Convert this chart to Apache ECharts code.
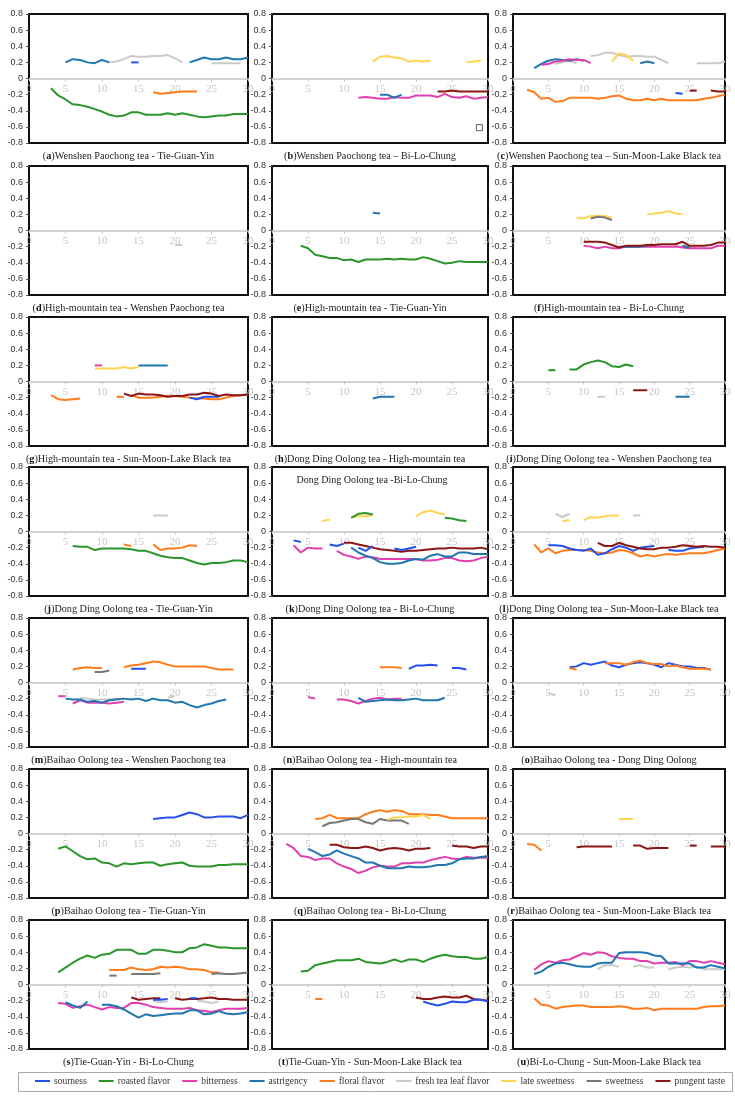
<!DOCTYPE html>
<html>
<head>
<meta charset="utf-8">
<title>tea panels</title>
<script src="https://cdn.jsdelivr.net/npm/echarts@6/dist/echarts.min.js"></script>
<style>
  body { margin: 0; background: #fff; }
  #main { width: 735px; height: 1096px; }
</style>
</head>
<body>
<div id="main"></div>
<script>
// attribute keys, legend names and colours
var names = { so: 'sourness', ro: 'roasted flavor', bi: 'bitterness', as: 'astrigency', fl: 'floral flavor',
  fr: 'fresh tea leaf flavor', la: 'late sweetness', sw: 'sweetness', pu: 'pungent taste' };
var colors = { so: '#2350ee', ro: '#2a962a', bi: '#e23fae', as: '#1f76b0', fl: '#ff7b1c',
  fr: '#cacaca', la: '#ffd450', sw: '#777777', pu: '#8c1616' };
var legendKeys = ['so', 'ro', 'bi', 'as', 'fl', 'fr', 'la', 'sw', 'pu'];

// x ticks / y ticks
var xTicks = [0, 5, 10, 15, 20, 25, 30];
var yTicks = [-0.8, -0.6, -0.4, -0.2, 0, 0.2, 0.4, 0.6, 0.8];

// each segment: [attribute, first x, values at x, x+1, ...]
var dA = [
  ['fr', 11, [0.20, 0.21, 0.24, 0.28, 0.27, 0.27, 0.28, 0.28, 0.29, 0.25, 0.20]],
  ['fr', 25, [0.19, 0.19, 0.19, 0.19, 0.19]],
  ['as', 5, [0.20, 0.24, 0.23, 0.20, 0.19, 0.23, 0.20]],
  ['as', 22, [0.20, 0.23, 0.26, 0.24, 0.24, 0.26, 0.24, 0.24, 0.26]],
  ['so', 14, [0.20, 0.20]],
  ['ro', 3, [-0.12, -0.21, -0.26, -0.32, -0.33, -0.35, -0.38, -0.41, -0.45, -0.47, -0.46, -0.42, -0.42, -0.45, -0.45, -0.45, -0.43, -0.45, -0.43, -0.45, -0.47, -0.48, -0.47, -0.46, -0.46, -0.44, -0.44, -0.44]],
  ['fl', 17, [-0.17, -0.19, -0.18, -0.17, -0.16, -0.16, -0.16]]
];
var dB = [
  ['la', 14, [0.21, 0.27, 0.28, 0.26, 0.25, 0.21, 0.22, 0.21, 0.22]],
  ['la', 27, [0.20, 0.21, 0.22]],
  ['bi', 12, [-0.24, -0.23, -0.24, -0.25, -0.25, -0.23, -0.24, -0.24, -0.21, -0.21, -0.21, -0.23, -0.19, -0.23, -0.24, -0.22, -0.25, -0.24, -0.23]],
  ['as', 15, [-0.20, -0.20, -0.24, -0.20]],
  ['pu', 23, [-0.16, -0.16, -0.15, -0.16, -0.16, -0.16, -0.16, -0.16]]
];
var bMark = [[28.8, -0.61]];
var dC = [
  ['fr', 6, [0.18, 0.20, 0.22, 0.19]],
  ['fr', 11, [0.28, 0.29, 0.32, 0.32, 0.29, 0.27, 0.28, 0.28, 0.27, 0.27, 0.23, 0.19]],
  ['fr', 26, [0.19, 0.19, 0.19, 0.19, 0.21]],
  ['as', 3, [0.13, 0.18, 0.22, 0.24, 0.23, 0.22, 0.24, 0.22]],
  ['as', 18, [0.19, 0.21, 0.19]],
  ['bi', 4, [0.17, 0.18, 0.21, 0.22, 0.24, 0.23, 0.23, 0.19]],
  ['la', 14, [0.21, 0.31, 0.29, 0.22]],
  ['fl', 2, [-0.14, -0.17, -0.25, -0.24, -0.29, -0.28, -0.24, -0.24, -0.24, -0.24, -0.25, -0.24, -0.22, -0.21, -0.25, -0.27, -0.27, -0.25, -0.27, -0.25, -0.27, -0.27, -0.27, -0.27, -0.27, -0.25, -0.24, -0.22, -0.20]],
  ['so', 23, [-0.18, -0.19]],
  ['pu', 25, [-0.15, -0.15]],
  ['pu', 28, [-0.15, -0.16, -0.16]]
];
var dD = [
  ['fr', 20, [-0.18, -0.18]]
];
var dE = [
  ['as', 14, [0.22, 0.21]],
  ['ro', 4, [-0.19, -0.22, -0.30, -0.32, -0.34, -0.34, -0.37, -0.36, -0.39, -0.36, -0.36, -0.36, -0.35, -0.36, -0.35, -0.36, -0.36, -0.33, -0.35, -0.38, -0.41, -0.40, -0.38, -0.39, -0.39, -0.39, -0.39]]
];
var dF = [
  ['la', 9, [0.16, 0.15, 0.18, 0.18, 0.18, 0.16]],
  ['la', 19, [0.20, 0.21, 0.22, 0.24, 0.21, 0.20]],
  ['sw', 11, [0.15, 0.17, 0.16, 0.13]],
  ['fr', 23, [-0.19, -0.20, -0.22, -0.21]],
  ['bi', 10, [-0.19, -0.20, -0.22, -0.20, -0.22, -0.22, -0.20, -0.20, -0.20, -0.20, -0.20, -0.20, -0.20, -0.20, -0.21, -0.22, -0.22, -0.22, -0.22, -0.19, -0.19]],
  ['as', 15, [-0.20, -0.20, -0.20, -0.20, -0.19]],
  ['as', 24, [-0.19, -0.21]],
  ['pu', 10, [-0.14, -0.14, -0.14, -0.15, -0.18, -0.21, -0.19, -0.19, -0.19, -0.18, -0.18, -0.17, -0.17, -0.17, -0.14, -0.19, -0.19, -0.19, -0.18, -0.15, -0.15]]
];
var dG = [
  ['la', 9, [0.16, 0.16, 0.16, 0.16, 0.18, 0.16, 0.18]],
  ['bi', 9, [0.20, 0.20]],
  ['as', 15, [0.20, 0.20, 0.20, 0.20, 0.20]],
  ['fl', 3, [-0.17, -0.22, -0.23, -0.22, -0.21]],
  ['fl', 12, [-0.19, -0.19]],
  ['fl', 14, [-0.17, -0.20, -0.20, -0.20, -0.19, -0.18, -0.18, -0.19, -0.20, -0.21, -0.21, -0.22, -0.22, -0.20, -0.18, -0.17, -0.16]],
  ['so', 22, [-0.20, -0.22, -0.19, -0.19, -0.19]],
  ['pu', 13, [-0.15, -0.18, -0.15, -0.16, -0.16, -0.17, -0.19, -0.18, -0.18, -0.16, -0.16, -0.14, -0.15, -0.18, -0.16, -0.17, -0.17, -0.16]]
];
var dH = [
  ['as', 14, [-0.21, -0.19, -0.19, -0.19]]
];
var dI = [
  ['ro', 5, [0.14, 0.14]],
  ['ro', 8, [0.15, 0.15, 0.21, 0.24, 0.26, 0.24, 0.19, 0.18, 0.21, 0.19]],
  ['pu', 17, [-0.11, -0.11, -0.11]],
  ['fr', 12, [-0.19, -0.19]],
  ['as', 23, [-0.19, -0.19, -0.19]]
];
var dJ = [
  ['fr', 17, [0.20, 0.20, 0.20]],
  ['ro', 6, [-0.18, -0.19, -0.19, -0.23, -0.21, -0.21, -0.21, -0.21, -0.22, -0.24, -0.24, -0.27, -0.30, -0.32, -0.33, -0.33, -0.36, -0.39, -0.41, -0.39, -0.39, -0.38, -0.36, -0.36, -0.38]],
  ['fl', 13, [-0.16, -0.18]],
  ['fl', 17, [-0.16, -0.23, -0.21, -0.21, -0.20, -0.17, -0.18]]
];
var dK = [
  ['la', 7, [0.13, 0.15]],
  ['la', 11, [0.18, 0.19, 0.19, 0.20]],
  ['la', 20, [0.19, 0.24, 0.26, 0.23, 0.21]],
  ['ro', 11, [0.17, 0.22, 0.23, 0.21]],
  ['ro', 24, [0.17, 0.16, 0.14, 0.13]],
  ['bi', 3, [-0.17, -0.26, -0.20, -0.21, -0.21]],
  ['bi', 9, [-0.24, -0.29, -0.31, -0.34, -0.31, -0.32, -0.34, -0.34, -0.34, -0.34, -0.34, -0.34, -0.36, -0.36, -0.35, -0.33, -0.33, -0.36, -0.37, -0.36, -0.33, -0.31]],
  ['as', 11, [-0.20, -0.26, -0.30, -0.33, -0.38, -0.40, -0.40, -0.39, -0.36, -0.34, -0.35, -0.30, -0.28, -0.31, -0.31, -0.26, -0.26, -0.28, -0.28, -0.28]],
  ['pu', 10, [-0.14, -0.14, -0.16, -0.18, -0.20, -0.22, -0.23, -0.24, -0.25, -0.24, -0.24, -0.23, -0.22, -0.21, -0.21, -0.20, -0.21, -0.21, -0.21, -0.20, -0.22]],
  ['so', 3, [-0.11, -0.13]],
  ['so', 8, [-0.16, -0.18, -0.15]],
  ['so', 12, [-0.20, -0.24, -0.18]],
  ['so', 17, [-0.21, -0.23, -0.21, -0.19]]
];
var dL = [
  ['fr', 6, [0.22, 0.18, 0.22]],
  ['fr', 17, [0.20, 0.20]],
  ['la', 7, [0.13, 0.14]],
  ['la', 10, [0.14, 0.18, 0.17, 0.19, 0.20, 0.20]],
  ['fl', 3, [-0.16, -0.26, -0.21, -0.27, -0.24, -0.23, -0.23, -0.23, -0.24, -0.26, -0.27, -0.26, -0.23, -0.24, -0.27, -0.31, -0.29, -0.31, -0.29, -0.28, -0.29, -0.28, -0.27, -0.27, -0.27, -0.25, -0.23, -0.21]],
  ['so', 5, [-0.17, -0.17, -0.18, -0.21, -0.23, -0.24, -0.21, -0.29, -0.27, -0.22, -0.18, -0.20, -0.24, -0.20, -0.19, -0.18]],
  ['so', 22, [-0.23, -0.24, -0.24, -0.21, -0.20, -0.19]],
  ['pu', 12, [-0.14, -0.18, -0.18, -0.14, -0.17, -0.19, -0.21, -0.22, -0.22, -0.20, -0.20, -0.19, -0.17, -0.18, -0.19, -0.18, -0.19, -0.19, -0.20]]
];
var dM = [
  ['fl', 6, [0.16, 0.18, 0.19, 0.18, 0.18]],
  ['fl', 13, [0.19, 0.21, 0.22, 0.24, 0.26, 0.25, 0.22, 0.20, 0.20, 0.20, 0.20, 0.20, 0.18, 0.16, 0.16, 0.16]],
  ['sw', 9, [0.13, 0.13, 0.15]],
  ['so', 14, [0.17, 0.17, 0.17]],
  ['fr', 7, [-0.19, -0.20, -0.21, -0.21, -0.21, -0.20, -0.20]],
  ['fr', 19, [-0.19, -0.17]],
  ['bi', 4, [-0.17, -0.17]],
  ['bi', 6, [-0.26, -0.22, -0.25, -0.25, -0.25, -0.26, -0.25, -0.24]],
  ['as', 5, [-0.20, -0.21, -0.21, -0.24, -0.23, -0.25, -0.22, -0.21, -0.20, -0.21, -0.20, -0.23, -0.20, -0.22, -0.22, -0.25, -0.24, -0.28, -0.31, -0.28, -0.26, -0.23, -0.21]]
];
var dN = [
  ['fl', 15, [0.19, 0.19, 0.19, 0.18]],
  ['so', 19, [0.17, 0.21, 0.21, 0.22, 0.21]],
  ['so', 25, [0.18, 0.18, 0.16]],
  ['bi', 5, [-0.18, -0.20]],
  ['bi', 9, [-0.21, -0.21, -0.23, -0.26, -0.23, -0.20, -0.19, -0.21, -0.20, -0.20]],
  ['as', 12, [-0.19, -0.24, -0.23, -0.22, -0.21, -0.22, -0.22, -0.21, -0.20, -0.22, -0.22, -0.22, -0.19]]
];
var dO = [
  ['so', 8, [0.19, 0.20, 0.24, 0.22, 0.24, 0.26, 0.21, 0.19, 0.22, 0.24, 0.25, 0.24, 0.22, 0.19, 0.24, 0.22, 0.20, 0.20, 0.18, 0.18, 0.16]],
  ['fl', 8, [0.18, 0.16]],
  ['fl', 13, [0.24, 0.24, 0.24, 0.22, 0.25, 0.27, 0.24, 0.23, 0.23, 0.20, 0.21, 0.19, 0.17, 0.17, 0.17, 0.16]],
  ['fr', 5, [-0.13, -0.16]]
];
var dP = [
  ['so', 17, [0.18, 0.19, 0.20, 0.20, 0.23, 0.26, 0.24, 0.20, 0.20, 0.21, 0.21, 0.21, 0.19, 0.23]],
  ['ro', 4, [-0.19, -0.16, -0.22, -0.28, -0.32, -0.31, -0.36, -0.37, -0.41, -0.37, -0.38, -0.37, -0.36, -0.36, -0.40, -0.38, -0.37, -0.36, -0.40, -0.41, -0.41, -0.41, -0.39, -0.39, -0.38, -0.38, -0.38]]
];
var dQ = [
  ['fl', 6, [0.18, 0.19, 0.23, 0.19, 0.19, 0.19, 0.19, 0.24, 0.27, 0.29, 0.27, 0.29, 0.28, 0.24, 0.24, 0.24, 0.23, 0.23, 0.21, 0.19, 0.19, 0.19, 0.19, 0.19, 0.19]],
  ['sw', 7, [0.09, 0.13, 0.14, 0.16, 0.18, 0.18, 0.14, 0.12, 0.18, 0.16, 0.16, 0.16, 0.12]],
  ['la', 16, [0.17, 0.20, 0.20, 0.21, 0.21, 0.23, 0.18]],
  ['bi', 2, [-0.13, -0.18, -0.28, -0.29, -0.33, -0.31, -0.31, -0.37, -0.41, -0.44, -0.49, -0.46, -0.42, -0.40, -0.41, -0.41, -0.37, -0.37, -0.36, -0.36, -0.33, -0.31, -0.29, -0.31, -0.32, -0.29, -0.30, -0.30, -0.30]],
  ['as', 5, [-0.19, -0.23, -0.28, -0.26, -0.21, -0.25, -0.28, -0.31, -0.36, -0.36, -0.40, -0.43, -0.43, -0.43, -0.41, -0.42, -0.42, -0.41, -0.39, -0.39, -0.37, -0.32, -0.31, -0.31, -0.29, -0.28]],
  ['pu', 8, [-0.14, -0.14, -0.17, -0.18, -0.18, -0.16, -0.18, -0.21, -0.19, -0.18, -0.19, -0.21, -0.19, -0.19, -0.18]],
  ['pu', 25, [-0.15, -0.16, -0.16, -0.18, -0.16, -0.16]]
];
var dR = [
  ['la', 15, [0.18, 0.18, 0.18]],
  ['fl', 2, [-0.13, -0.14, -0.21]],
  ['pu', 9, [-0.17, -0.16, -0.16, -0.16, -0.16, -0.16]],
  ['pu', 17, [-0.15, -0.15, -0.19, -0.18, -0.18, -0.18]],
  ['pu', 25, [-0.15, -0.15]],
  ['pu', 28, [-0.16, -0.16, -0.16]]
];
var dS = [
  ['ro', 4, [0.15, 0.21, 0.27, 0.32, 0.36, 0.33, 0.37, 0.38, 0.43, 0.43, 0.43, 0.38, 0.38, 0.43, 0.43, 0.42, 0.40, 0.40, 0.45, 0.46, 0.50, 0.48, 0.46, 0.46, 0.45, 0.45, 0.45]],
  ['fl', 11, [0.18, 0.18, 0.18, 0.21, 0.19, 0.18, 0.19, 0.22, 0.21, 0.22, 0.21, 0.19, 0.19, 0.18, 0.15, 0.15]],
  ['sw', 11, [0.11, 0.11]],
  ['sw', 14, [0.13, 0.13, 0.13, 0.13, 0.14]],
  ['sw', 25, [0.13, 0.14, 0.13, 0.13, 0.14, 0.15]],
  ['fr', 17, [-0.20, -0.22, -0.21]],
  ['fr', 23, [-0.20, -0.21, -0.23, -0.21]],
  ['bi', 4, [-0.23, -0.24, -0.29, -0.27, -0.25, -0.28, -0.31, -0.28, -0.29, -0.29, -0.23, -0.23, -0.25, -0.28, -0.29, -0.30, -0.30, -0.30, -0.29, -0.32, -0.33, -0.34, -0.32, -0.30, -0.30, -0.30, -0.29]],
  ['as', 5, [-0.22, -0.26, -0.29, -0.21]],
  ['as', 10, [-0.25, -0.25, -0.27, -0.31, -0.36, -0.41, -0.37, -0.39, -0.38, -0.37, -0.36, -0.36, -0.32, -0.32, -0.37, -0.36, -0.33, -0.36, -0.37, -0.36, -0.34]],
  ['pu', 14, [-0.16, -0.19, -0.18, -0.17, -0.17]],
  ['pu', 20, [-0.17, -0.19, -0.18, -0.18, -0.17, -0.16, -0.18, -0.18, -0.19, -0.19, -0.19]],
  ['so', 17, [-0.19, -0.19, -0.18]],
  ['so', 22, [-0.17, -0.17]]
];
var dT = [
  ['ro', 4, [0.16, 0.17, 0.24, 0.26, 0.28, 0.30, 0.30, 0.30, 0.32, 0.28, 0.27, 0.26, 0.28, 0.31, 0.28, 0.31, 0.31, 0.28, 0.32, 0.35, 0.37, 0.35, 0.34, 0.34, 0.32, 0.32, 0.34]],
  ['fl', 6, [-0.18, -0.18]],
  ['pu', 20, [-0.16, -0.18, -0.18, -0.16, -0.15, -0.16, -0.16, -0.14, -0.18, -0.19, -0.20]],
  ['so', 21, [-0.21, -0.24, -0.26, -0.24, -0.21, -0.22, -0.22, -0.19, -0.19, -0.21]]
];
var dU = [
  ['fr', 12, [0.19, 0.24, 0.24, 0.22]],
  ['fr', 17, [0.22, 0.24, 0.21, 0.21]],
  ['fr', 22, [0.19, 0.21, 0.22, 0.21, 0.22, 0.19, 0.19, 0.19, 0.19]],
  ['bi', 3, [0.18, 0.25, 0.29, 0.27, 0.30, 0.31, 0.35, 0.39, 0.37, 0.40, 0.39, 0.35, 0.33, 0.32, 0.32, 0.29, 0.29, 0.26, 0.27, 0.27, 0.28, 0.24, 0.29, 0.29, 0.27, 0.29, 0.27, 0.25]],
  ['as', 3, [0.13, 0.16, 0.22, 0.26, 0.27, 0.25, 0.23, 0.22, 0.22, 0.26, 0.27, 0.27, 0.39, 0.40, 0.40, 0.40, 0.39, 0.36, 0.35, 0.26, 0.26, 0.26, 0.26, 0.21, 0.21, 0.24, 0.22, 0.20]],
  ['fl', 3, [-0.17, -0.25, -0.26, -0.30, -0.28, -0.27, -0.26, -0.26, -0.28, -0.28, -0.28, -0.28, -0.27, -0.28, -0.30, -0.30, -0.29, -0.32, -0.30, -0.30, -0.30, -0.30, -0.30, -0.30, -0.28, -0.27, -0.27, -0.26]]
];

var captions = [
  ['a', 'Wenshen Paochong tea - Tie-Guan-Yin'],
  ['b', 'Wenshen Paochong tea \u2013 Bi-Lo-Chung'],
  ['c', 'Wenshen Paochong tea \u2013 Sun-Moon-Lake Black tea'],
  ['d', 'High-mountain tea - Wenshen Paochong tea'],
  ['e', 'High-mountain tea - Tie-Guan-Yin'],
  ['f', 'High-mountain tea - Bi-Lo-Chung'],
  ['g', 'High-mountain tea - Sun-Moon-Lake Black tea'],
  ['h', 'Dong Ding Oolong tea - High-mountain tea'],
  ['i', 'Dong Ding Oolong tea - Wenshen Paochong tea'],
  ['j', 'Dong Ding Oolong tea - Tie-Guan-Yin'],
  ['k', 'Dong Ding Oolong tea - Bi-Lo-Chung'],
  ['l', 'Dong Ding Oolong tea - Sun-Moon-Lake Black tea'],
  ['m', 'Baihao Oolong tea - Wenshen Paochong tea'],
  ['n', 'Baihao Oolong tea - High-mountain tea'],
  ['o', 'Baihao Oolong tea - Dong Ding Oolong'],
  ['p', 'Baihao Oolong tea - Tie-Guan-Yin'],
  ['q', 'Baihao Oolong tea - Bi-Lo-Chung'],
  ['r', 'Baihao Oolong tea - Sun-Moon-Lake Black tea'],
  ['s', 'Tie-Guan-Yin - Bi-Lo-Chung'],
  ['t', 'Tie-Guan-Yin - Sun-Moon-Lake Black tea'],
  ['u', 'Bi-Lo-Chung - Sun-Moon-Lake Black tea']
];
var kTitle = 'Dong Ding Oolong tea -Bi-Lo-Chung';

var panels = [dA, dB, dC, dD, dE, dF, dG, dH, dI, dJ, dK, dL, dM, dN, dO, dP, dQ, dR, dS, dT, dU];

// layout of the 3 x 7 grid
var colLeft = [29, 272, 513];
var colWidth = [219, 216, 212];
var rowTop = [14, 166, 317, 467, 618, 769, 920];
var plotH = 129;

var grids = [], xAxes = [], yAxes = [], series = [], graphics = [];

panels.forEach(function (segs, i) {
    var r = Math.floor(i / 3), c = i % 3;
    var g = { left: colLeft[c], top: rowTop[r], width: colWidth[c], height: plotH };
    grids.push({ left: g.left, top: g.top, width: g.width, height: g.height, show: true,
        borderColor: '#111', borderWidth: 2, backgroundColor: 'transparent' });

    // the y range is symmetric, so the zero line sits half way up: lift the x axis there
    xAxes.push({
        type: 'value', gridIndex: i, min: xTicks[0], max: xTicks[xTicks.length - 1], interval: 5,
        offset: -plotH / 2,
        axisLine: { onZero: false, lineStyle: { color: '#c4c4c4', width: 1.5 } },
        axisTick: { show: true, length: 3, lineStyle: { color: '#c4c4c4' } },
        axisLabel: { color: '#c6c6c6', fontFamily: 'Liberation Serif', fontSize: 11, margin: 5 },
        splitLine: { show: false }
    });
    yAxes.push({
        type: 'value', gridIndex: i, min: yTicks[0], max: yTicks[yTicks.length - 1], interval: 0.2,
        axisLine: { show: false },
        axisTick: { show: true, length: 3, lineStyle: { color: '#555' } },
        axisLabel: { color: '#333', fontFamily: 'Liberation Sans', fontSize: 9, margin: 6,
            formatter: function (v) { return Math.abs(v) < 1e-9 ? '0' : v.toFixed(1); } },
        splitLine: { show: false }
    });

    segs.forEach(function (s) {
        var k = s[0], x0 = s[1];
        series.push({
            type: 'line', name: names[k], xAxisIndex: i, yAxisIndex: i,
            data: s[2].map(function (v, j) { return [x0 + j, v]; }),
            symbol: 'none', silent: true, z: 3,
            lineStyle: { color: colors[k], width: 2 },
            itemStyle: { color: colors[k] }
        });
    });

    var cap = captions[i];
    graphics.push({
        type: 'text', x: g.left + g.width / 2 - 10, y: g.top + g.height + 13,
        style: {
            text: '({b|' + cap[0] + '})' + cap[1],
            fontFamily: 'Liberation Serif', fontSize: 10.2, fill: '#222',
            align: 'center', verticalAlign: 'middle',
            rich: { b: { fontFamily: 'Liberation Serif', fontSize: 10.2, fontWeight: 'bold', fill: '#111' } }
        }
    });
    if (i === 10) {
        graphics.push({
            type: 'text', x: g.left + g.width / 2 - 8, y: g.top + 13,
            style: { text: kTitle, fontFamily: 'Liberation Serif', fontSize: 10, fill: '#222',
                align: 'center', verticalAlign: 'middle' }
        });
    }
});

// stray square in panel (b)
series.push({
    type: 'scatter', name: 'mark', xAxisIndex: 1, yAxisIndex: 1, data: bMark,
    symbol: 'rect', symbolSize: 6, silent: true,
    itemStyle: { color: '#fff', borderColor: '#333', borderWidth: 1 }
});

// legend frame
graphics.push({
    type: 'rect', shape: { x: 18.5, y: 1072.5, width: 714, height: 19 },
    style: { fill: 'none', stroke: '#a8a8a8', lineWidth: 1 }
});

var chart = echarts.init(document.getElementById('main'));
chart.setOption({
    animation: false,
    backgroundColor: '#fff',
    grid: grids,
    xAxis: xAxes,
    yAxis: yAxes,
    legend: {
        data: legendKeys.map(function (k) { return names[k]; }),
        left: 35, top: 1076, width: 720, padding: 0,
        icon: 'rect', itemWidth: 15, itemHeight: 2, itemGap: 12,
        selectedMode: false,
        textStyle: { fontFamily: 'Liberation Serif', fontSize: 9.5, color: '#333', padding: [0, 0, 0, -1] }
    },
    graphic: graphics,
    series: series
});
</script>
</body>
</html>
